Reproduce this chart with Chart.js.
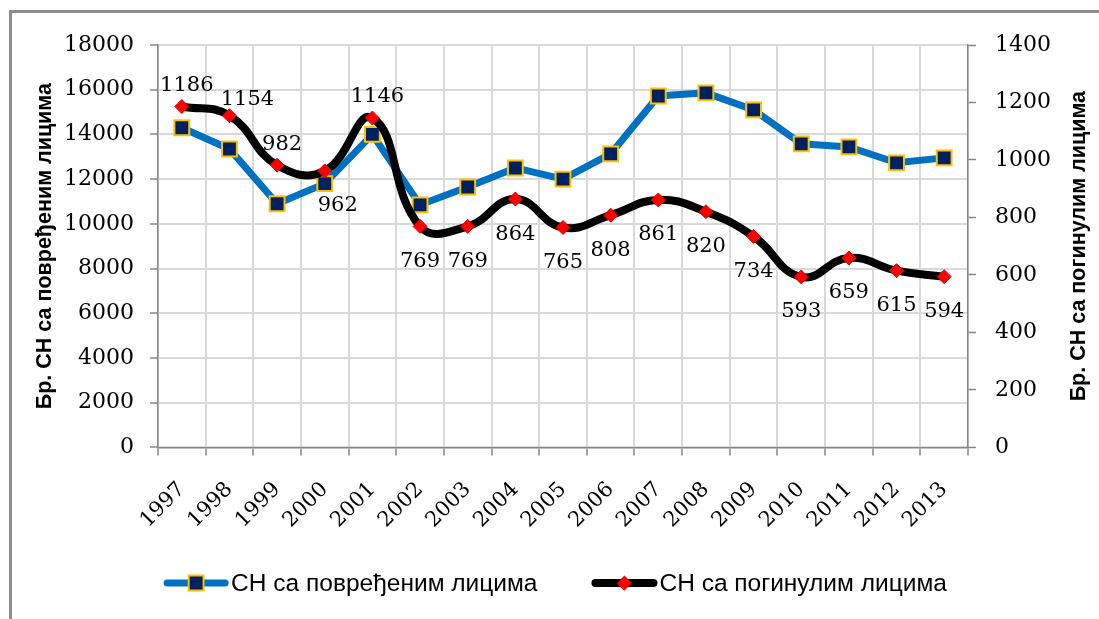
<!DOCTYPE html>
<html><head><meta charset="utf-8">
<script src="https://cdn.jsdelivr.net/npm/chart.js@4/dist/chart.umd.min.js"></script>
<style>
html,body{margin:0;padding:0;background:#fff;overflow:hidden;width:1099px;height:619px;}
#frame{position:absolute;left:9px;top:10px;width:1300px;height:900px;border:3px solid #8c8c8c;box-sizing:border-box;}
#wrap{position:absolute;left:0;top:0;width:1099px;height:619px;}
</style></head><body>
<div id="frame"></div>
<div id="wrap"><canvas id="c" width="1099" height="619"></canvas></div>
<script>
const years = ['1997','1998','1999','2000','2001','2002','2003','2004','2005','2006','2007','2008','2009','2010','2011','2012','2013'];
const injured = [14300,13350,10900,11800,14000,10850,11650,12500,12000,13130,15720,15860,15100,13580,13440,12730,12950];
const killed = [1186,1154,982,962,1146,769,769,864,765,808,861,820,734,593,659,615,594];
const leftTickValues = [0,2000,4000,6000,8000,10000,12000,14000,16000,18000];
const rightTickValues = [0,200,400,600,800,1000,1200,1400];
const seriesNames = ['СН са повређеним лицима','СН са погинулим лицима'];
const leftTitle = 'Бр. СН са повређеним лицима';
const rightTitle = 'Бр. СН са погинулим лицима';
const labelPlacement = ['above','aboveRight','above','belowRight','above','below','below','below','below','below','below','below','below','below','below','below','below'];

const placeOffsets = {above:[5,-21], aboveRight:[18,-16], belowRight:[13,35], below:[0,35]};
const gridColor = '#D9D9D9', axisColor = '#868686';
const tickFont = {family:'DejaVu Serif', size:22};

const titlesPlugin = {
  id:'titles',
  afterDraw(chart){
    const {ctx, chartArea:a} = chart;
    const cy = (a.top + a.bottom)/2;
    ctx.save();
    ctx.font = 'bold 21.5px "Liberation Sans"';
    ctx.fillStyle = '#000';
    ctx.textAlign = 'center';
    ctx.textBaseline = 'middle';
    ctx.save(); ctx.translate(a.left - 113, cy); ctx.rotate(-Math.PI/2); ctx.fillText(leftTitle,0,0); ctx.restore();
    ctx.save(); ctx.translate(a.right + 111, cy); ctx.rotate(-Math.PI/2); ctx.fillText(rightTitle,0,0); ctx.restore();
    ctx.restore();
  }
};

const labelsPlugin = {
  id:'pointLabels',
  afterDatasetsDraw(chart){
    const {ctx} = chart;
    const meta = chart.getDatasetMeta(1);
    ctx.save();
    ctx.font = '21px "DejaVu Serif"';
    ctx.fillStyle = '#000';
    ctx.textAlign = 'center';
    ctx.textBaseline = 'middle';
    meta.data.forEach((pt,i)=>{
      const off = placeOffsets[labelPlacement[i]];
      ctx.fillText(String(killed[i]), pt.x + off[0], pt.y + off[1]);
    });
    ctx.restore();
  }
};

const legendPlugin = {
  id:'lineLegend',
  afterDraw(chart){
    const {ctx} = chart;
    const y = 583;
    ctx.save();
    ctx.font = '24.5px "Liberation Sans"';
    ctx.textBaseline = 'middle';
    ctx.textAlign = 'left';
    const lineLen = 64, gapText = 3, gapItems = 55;
    const widths = chart.data.datasets.map(d => lineLen + gapText + ctx.measureText(d.label).width);
    const total = widths.reduce((s,w)=>s+w,0) + gapItems*(widths.length-1);
    let x = chart.width/2 + 6 - total/2;
    chart.data.datasets.forEach((d,i)=>{
      ctx.lineCap = 'round';
      ctx.strokeStyle = d.borderColor;
      ctx.lineWidth = d.borderWidth;
      ctx.beginPath(); ctx.moveTo(x+3, y); ctx.lineTo(x+lineLen-3, y); ctx.stroke();
      ctx.fillStyle = d.pointBackgroundColor;
      ctx.strokeStyle = d.pointBorderColor;
      ctx.lineWidth = d.pointBorderWidth;
      Chart.helpers.drawPoint(ctx, {pointStyle:d.pointStyle, radius:d.pointRadius, borderWidth:d.pointBorderWidth, rotation:0}, x+lineLen/2, y);
      ctx.fillStyle = '#000';
      ctx.fillText(d.label, x + lineLen + gapText, y + 1);
      x += widths[i] + gapItems;
    });
    ctx.restore();
  }
};

new Chart(document.getElementById('c'), {
  type:'line',
  data:{
    labels: years,
    datasets:[
      {label:seriesNames[0], data:injured, yAxisID:'y', borderColor:'#0070C0', borderWidth:7, tension:0,
       pointStyle:'rect', pointRadius:10.5, pointHoverRadius:10.5, pointBackgroundColor:'#002060', pointBorderColor:'#FFC000', pointBorderWidth:2, order:1},
      {label:seriesNames[1], data:killed, yAxisID:'y1', borderColor:'#000000', borderWidth:8, tension:0.45,
       pointStyle:'rectRot', pointRadius:7, pointHoverRadius:7, pointBackgroundColor:'#FF0000', pointBorderColor:'#E00000', pointBorderWidth:1, order:0}
    ]
  },
  options:{
    responsive:false, animation:false, devicePixelRatio:1,
    layout:{padding:{left:48, right:29, top:45, bottom:64}},
    plugins:{legend:{display:false}, tooltip:{enabled:false}},
    scales:{
      x:{offset:true,
         grid:{offset:true, color:gridColor, lineWidth:2, tickColor:axisColor, tickLength:8, tickWidth:1.5},
         border:{color:axisColor, width:1.5},
         ticks:{font:{family:'DejaVu Serif', size:21}, color:'#000', maxRotation:45, minRotation:45, padding:22, labelOffset:0, autoSkip:false}},
      y:{position:'left', min:0, max:18000,
         afterBuildTicks:s=>{s.ticks = leftTickValues.map(v=>({value:v}));},
         ticks:{font:tickFont, color:'#000', padding:16, callback:v=>String(v)},
         grid:{color:gridColor, lineWidth:2, tickColor:axisColor, tickLength:8, tickWidth:1.5},
         border:{color:axisColor, width:1.5}},
      y1:{position:'right', min:0, max:1400,
         afterBuildTicks:s=>{s.ticks = rightTickValues.map(v=>({value:v}));},
         ticks:{font:tickFont, color:'#000', padding:19, callback:v=>String(v)},
         grid:{drawOnChartArea:false, tickColor:axisColor, tickLength:8, tickWidth:1.5},
         border:{color:axisColor, width:1.5}}
    }
  },
  plugins:[titlesPlugin, labelsPlugin, legendPlugin]
});
</script>
</body></html>
